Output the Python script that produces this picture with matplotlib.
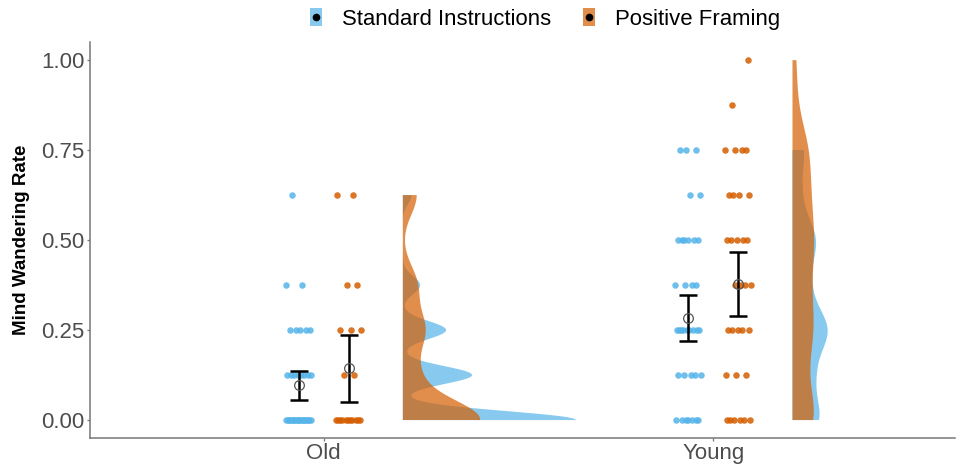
import numpy as np
import matplotlib
matplotlib.use("Agg")
import matplotlib.pyplot as plt
from matplotlib.lines import Line2D
from matplotlib.legend_handler import HandlerTuple
from matplotlib.colors import to_rgba

plt.rcParams['font.family'] = ['Liberation Sans', 'DejaVu Sans']

# ---------------- data ----------------
groups = ["Old", "Young"]
conditions = ["Standard Instructions", "Positive Framing"]
levels = [0.0, 0.125, 0.25, 0.375, 0.5, 0.625, 0.75, 0.875, 1.0]

# number of participants at each level
old_standard_counts   = [20, 8, 5, 2, 0, 1, 0, 0, 0]
old_positive_counts   = [11, 2, 3, 2, 0, 2, 0, 0, 0]
young_standard_counts = [7, 5, 9, 4, 6, 2, 3, 0, 0]
young_positive_counts = [6, 3, 5, 4, 5, 4, 4, 1, 1]

# summary: mean and 95% CI
mean_standard  = [0.097, 0.283]
ci_lo_standard = [0.056, 0.219]
ci_hi_standard = [0.136, 0.347]
mean_positive  = [0.144, 0.378]
ci_lo_positive = [0.050, 0.289]
ci_hi_positive = [0.236, 0.467]

# ---------------- style ----------------
col_std = "#56B4E9"
col_pos = "#D55E00"
dodge = 0.064
jit = 0.034
violin_offset = 0.203
violin_maxw = 0.444
bw_adjust = 0.6

counts = {
    (0, 0): old_standard_counts, (0, 1): old_positive_counts,
    (1, 0): young_standard_counts, (1, 1): young_positive_counts,
}
data = {k: np.repeat(levels, v) for k, v in counts.items()}


def bw_nrd0(x):
    sd = np.std(x, ddof=1)
    q75, q25 = np.percentile(x, [75, 25])
    lo = min(sd, (q75 - q25) / 1.34)
    if lo <= 0:
        lo = sd
    return 0.9 * lo * len(x) ** (-0.2)


def kde(x, grid):
    bw = bw_nrd0(x) * bw_adjust
    z = (grid[:, None] - x[None, :]) / bw
    return np.exp(-0.5 * z ** 2).sum(axis=1) / (len(x) * bw * np.sqrt(2 * np.pi))


dens = {}
for k, x in data.items():
    g = np.linspace(x.min(), x.max(), 512)
    dens[k] = (g, kde(x, g))
dmax = max(d.max() for _, d in dens.values())

fig = plt.figure(figsize=(9.59, 4.68), dpi=100)
ax = fig.add_axes([0.0938, 0.064, 0.902, 0.846])

for gi in range(2):
    for ci, col in enumerate([col_std, col_pos]):
        g, d = dens[(gi, ci)]
        base = gi + 1 + violin_offset
        ax.fill_betweenx(g, base, base + d / dmax * violin_maxw,
                         facecolor=col, alpha=0.7, linewidth=0, zorder=1)

golden = 0.6180339887
for gi in range(2):
    for ci, col in enumerate([col_std, col_pos]):
        x0 = gi + 1 + (-dodge if ci == 0 else dodge)
        cnt = counts[(gi, ci)]
        xs, ys = [], []
        idx = 0
        for lv, n in zip(levels, cnt):
            for j in range(n):
                idx += 1
                off = ((idx * golden + ci * 0.3 + gi * 0.17) % 1.0 - 0.5) * 2 * jit
                xs.append(x0 + off)
                ys.append(lv)
        ax.scatter(xs, ys, s=22, color=col, alpha=0.85, linewidths=0, zorder=2)

means = [mean_standard, mean_positive]
los = [ci_lo_standard, ci_lo_positive]
his = [ci_hi_standard, ci_hi_positive]
for ci in range(2):
    xs = np.arange(1, 3) + (-dodge if ci == 0 else dodge)
    m = np.array(means[ci])
    lo = m - np.array(los[ci])
    hi = np.array(his[ci]) - m
    ax.errorbar(xs, m, yerr=[lo, hi], fmt='none', ecolor='black',
                elinewidth=1.8, capsize=6.8, capthick=1.8, zorder=3)
    ax.plot(xs, m, 'o', ms=7, mfc='none', mec='#555555', mew=0.9, zorder=4)

ax.set_xlim(0.4, 2.62)
ax.set_ylim(-0.05, 1.05)
ax.set_xticks([1, 2])
ax.set_xticklabels(groups)
ax.set_yticks([0, 0.25, 0.5, 0.75, 1.0])
ax.set_yticklabels(["0.00", "0.25", "0.50", "0.75", "1.00"])
for s in ["top", "right"]:
    ax.spines[s].set_visible(False)
for s in ["left", "bottom"]:
    ax.spines[s].set_color("#777777")
    ax.spines[s].set_linewidth(1.1)
ax.tick_params(axis='both', colors='#777777', labelcolor='#4D4D4D',
               labelsize=16, length=2.5, width=0.9, pad=1.2)
ax.set_ylabel("Mind Wandering Rate", fontsize=13.5, fontweight='bold',
              color='black', labelpad=8)

rect = [(-0.32, -0.5), (0.32, -0.5), (0.32, 0.5), (-0.32, 0.5), (-0.32, -0.5)]
handles = []
for col in [col_std, col_pos]:
    key = Line2D([], [], marker=rect, ls='', ms=12.5, mew=0,
                 markerfacecolor=to_rgba(col, 0.7))
    dot = Line2D([], [], marker='o', color='black', ls='', ms=4.5)
    handles.append((key, dot))
fig.legend(handles, conditions,
           handler_map={tuple: HandlerTuple(ndivide=1, pad=0)},
           loc='center', bbox_to_anchor=(0.5675, 0.959), ncol=2, frameon=False,
           fontsize=15.9, handlelength=0.75, handleheight=1.0, columnspacing=1.33,
           handletextpad=0.8)

fig.savefig("out.png", dpi=100)
